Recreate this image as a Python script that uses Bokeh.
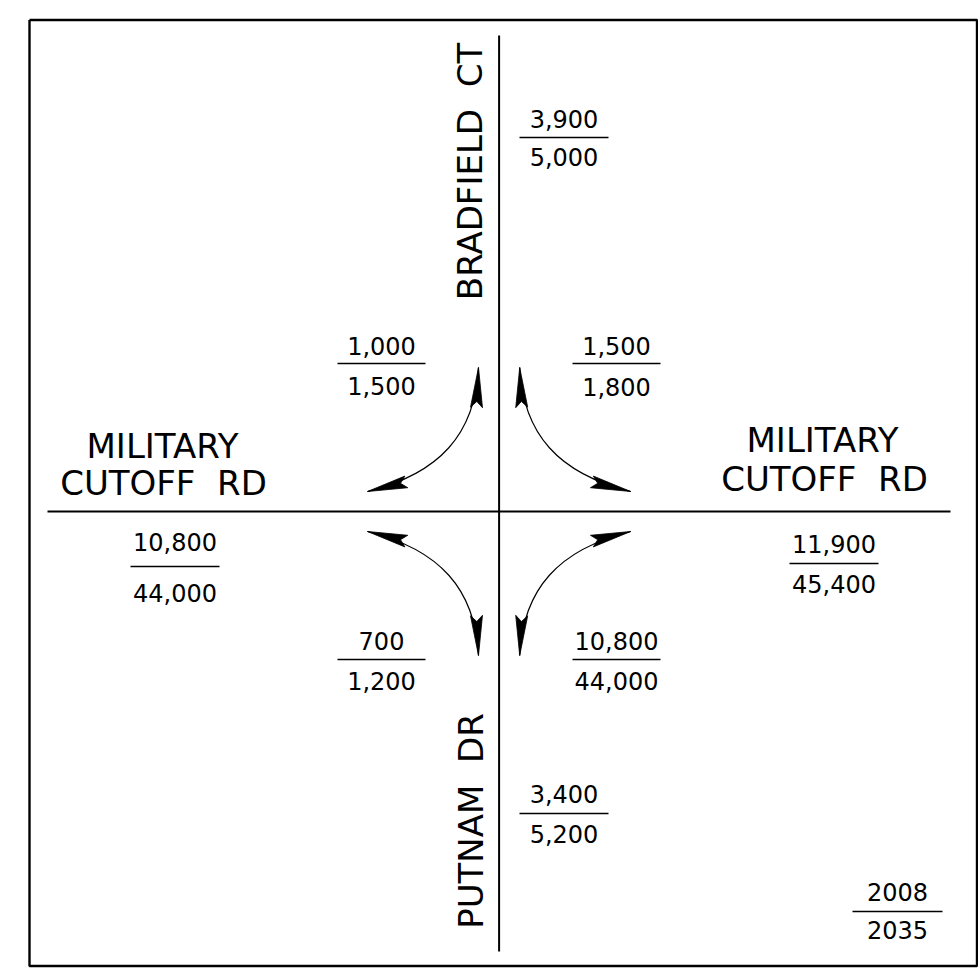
import math
from bokeh.plotting import figure
from bokeh.models import Range1d
from bokeh.core.properties import value
from bokeh.embed import file_html
from bokeh.resources import INLINE

# ---------------- data ----------------
NB = "\u00a0"
road_east_west = ["MILITARY", "CUTOFF" + NB + NB + "RD"]
road_north = "BRADFIELD" + NB + NB + "CT"
road_south = "PUTNAM" + NB + NB + "DR"
volumes_2008 = ["3,900", "1,000", "1,500", "700", "10,800", "10,800", "11,900", "3,400"]
volumes_2035 = ["5,000", "1,500", "1,800", "1,200", "44,000", "44,000", "45,400", "5,200"]
legend_years = ["2008", "2035"]

# ---------------- layout (screen pixel coordinates) ----------------
W, H = 978, 969
p = figure(width=W, height=H, output_backend="svg", toolbar_location=None,
           x_axis_type=None, y_axis_type=None,
           x_range=Range1d(0, W), y_range=Range1d(H, 0),
           min_border=0, outline_line_color=None)
p.grid.visible = False
p.background_fill_color = "white"
p.border_fill_color = "white"

FONT = value("DejaVu Sans")
BLACK = "#000000"

# frame
p.line(x=[29, 976.5, 976.5, 29, 29], y=[19.5, 19.5, 965.5, 965.5, 19.5],
       line_color=BLACK, line_width=2.4)

# roads
CX, CY = 498.6, 511
p.line(x=[47, 950], y=[CY, CY], line_color=BLACK, line_width=2)
p.line(x=[CX, CX], y=[35, 951], line_color=BLACK, line_width=2)

# road names (anchors at glyph centres)
p.text(x=[162, 163, 822, 824], y=[445, 482, 439.5, 478.5],
       text=road_east_west + road_east_west,
       text_font=FONT, text_font_size=value("34px"), text_color=BLACK,
       text_align="center", text_baseline="alphabetic")
p.text(x=[469.5, 470.5], y=[171, 820.5], text=[road_north, road_south],
       angle=math.pi / 2,
       text_font=FONT, text_font_size=value("34px"), text_color=BLACK,
       text_align="center", text_baseline="alphabetic")

# volume fractions: line x0, x1, line y, top text centre, bottom text centre
frac_x0 = [519, 337, 572, 337, 572, 130, 789, 519]
frac_x1 = [608, 425, 660, 425, 660, 219, 878, 608]
frac_ly = [137, 363, 363, 659, 659, 566, 563, 813]
frac_tc = [118, 345, 345, 640, 640, 541, 543, 793]
frac_bc = [156, 385, 386, 680, 680, 592, 583, 833]

# legend fraction
frac_x0.append(852); frac_x1.append(942); frac_ly.append(911)
frac_tc.append(891); frac_bc.append(929)
tops = volumes_2008 + [legend_years[0]]
bots = volumes_2035 + [legend_years[1]]

for x0, x1, ly, tc, bc, t, b in zip(frac_x0, frac_x1, frac_ly, frac_tc, frac_bc, tops, bots):
    xc = (x0 + x1) / 2
    p.line(x=[x0, x1], y=[ly, ly], line_color=BLACK, line_width=1.6)
    p.text(x=[xc, xc], y=[tc, bc], text=[t, b],
           text_font=FONT, text_font_size=value("24px"), text_color=BLACK,
           text_align="center", text_baseline="alphabetic")

# turning-movement arrows (upper-left defined, others mirrored)
P0 = (478.0, 367.0)
D0 = (-0.05, 1.0)
P3 = (367.0, 491.0)
D3 = (0.97, -0.24)

def norm(v):
    l = math.hypot(v[0], v[1])
    return (v[0] / l, v[1] / l)

D0 = norm(D0); D3 = norm(D3)
det = D0[0] * (-D3[1]) - D0[1] * (-D3[0])
rx, ry = P3[0] - P0[0], P3[1] - P0[1]
s = (rx * (-D3[1]) - ry * (-D3[0])) / det
C = (P0[0] + s * D0[0], P0[1] + s * D0[1])
k = 0.68
P1 = (P0[0] + k * (C[0] - P0[0]), P0[1] + k * (C[1] - P0[1]))
P2 = (P3[0] + k * (C[0] - P3[0]), P3[1] + k * (C[1] - P3[1]))

def mirror(pt, mx, my):
    x, y = pt
    if mx:
        x = 2 * CX - x
    if my:
        y = 2 * CY - y
    return (x, y)

def head(tip, ctrl, L=40.0, Wd=12.0, notch=6.0):
    d = norm((ctrl[0] - tip[0], ctrl[1] - tip[1]))
    n = (-d[1], d[0])
    b = (tip[0] + L * d[0], tip[1] + L * d[1])
    m = (tip[0] + (L - notch) * d[0], tip[1] + (L - notch) * d[1])
    xs = [tip[0], b[0] + n[0] * Wd / 2, m[0], b[0] - n[0] * Wd / 2]
    ys = [tip[1], b[1] + n[1] * Wd / 2, m[1], b[1] - n[1] * Wd / 2]
    return xs, ys

bx0, by0, bx1, by1, bc0x, bc0y, bc1x, bc1y = [], [], [], [], [], [], [], []
hx, hy = [], []
for mx, my in [(False, False), (True, False), (False, True), (True, True)]:
    a0, a1, a2, a3 = [mirror(q, mx, my) for q in (P0, P1, P2, P3)]
    bx0.append(a0[0]); by0.append(a0[1])
    bx1.append(a3[0]); by1.append(a3[1])
    bc0x.append(a1[0]); bc0y.append(a1[1])
    bc1x.append(a2[0]); bc1y.append(a2[1])
    for tip, ctrl in [(a0, a1), (a3, a2)]:
        xs, ys = head(tip, ctrl)
        hx.append(xs); hy.append(ys)

p.bezier(x0=bx0, y0=by0, x1=bx1, y1=by1, cx0=bc0x, cy0=bc0y, cx1=bc1x, cy1=bc1y,
         line_color=BLACK, line_width=1.2)
p.patches(xs=hx, ys=hy, fill_color=BLACK, line_color=BLACK, line_width=0.8)

open("out.html", "w").write(file_html(p, INLINE))
